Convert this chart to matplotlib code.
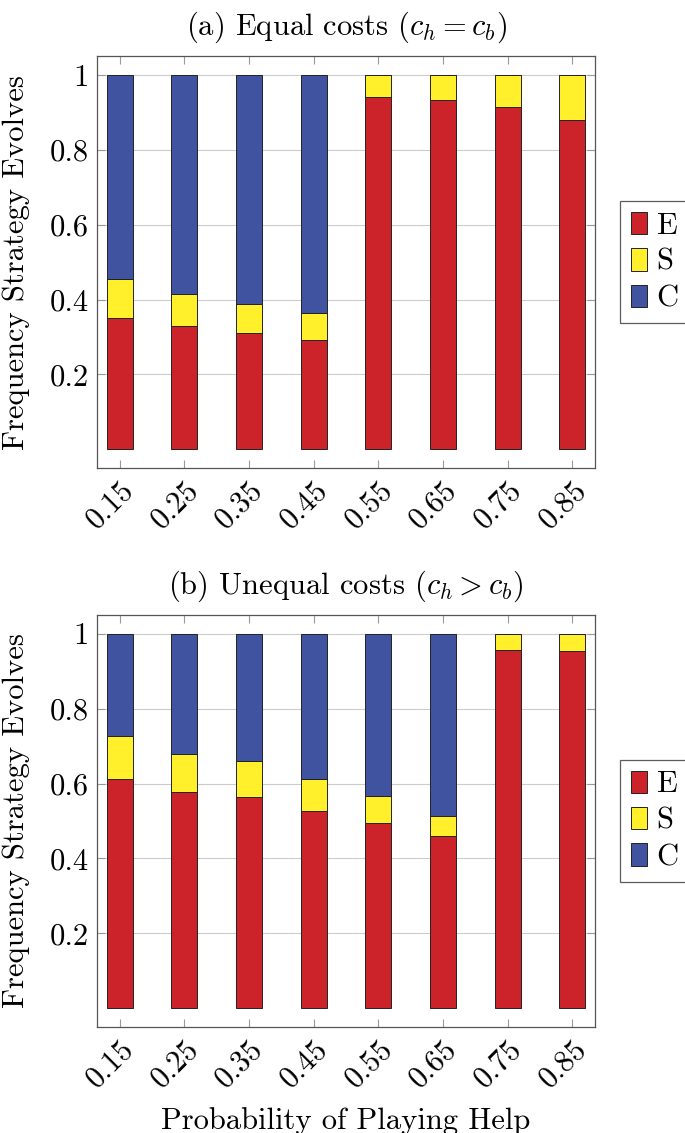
import matplotlib
matplotlib.use("Agg")
import matplotlib.pyplot as plt
from matplotlib.patches import Patch

plt.rcParams['font.family'] = 'cmr10'
plt.rcParams['mathtext.fontset'] = 'cm'
plt.rcParams['axes.formatter.use_mathtext'] = True

# Probability of playing Help
p_help = [0.15, 0.25, 0.35, 0.45, 0.55, 0.65, 0.75, 0.85]
x_labels = ['0.15', '0.25', '0.35', '0.45', '0.55', '0.65', '0.75', '0.85']
y_ticks = [0.2, 0.4, 0.6, 0.8, 1.0]
y_labels = ['0.2', '0.4', '0.6', '0.8', '1']

# (a) Equal costs
E_a = [0.351, 0.328, 0.311, 0.293, 0.941, 0.933, 0.914, 0.879]
S_a = [0.104, 0.087, 0.076, 0.070, 0.059, 0.067, 0.086, 0.121]
C_a = [0.545, 0.585, 0.613, 0.637, 0.0, 0.0, 0.0, 0.0]

# (b) Unequal costs
E_b = [0.612, 0.577, 0.564, 0.526, 0.495, 0.459, 0.957, 0.955]
S_b = [0.115, 0.103, 0.095, 0.086, 0.072, 0.054, 0.043, 0.045]
C_b = [0.273, 0.320, 0.341, 0.388, 0.433, 0.487, 0.0, 0.0]

red = '#cc2229'
yellow = '#fff02b'
blue = '#3f53a0'
FS = 22


def draw_panel(ax, E, S, C, title):
    bottom_s = E
    bottom_c = [e + s for e, s in zip(E, S)]
    kw = dict(width=0.04, edgecolor='#222222', linewidth=0.7, zorder=3)
    ax.bar(p_help, E, color=red, **kw)
    ax.bar(p_help, S, bottom=bottom_s, color=yellow, **kw)
    ax.bar(p_help, C, bottom=bottom_c, color=blue, **kw)

    ax.set_xlim(0.115, 0.885)
    ax.set_ylim(-0.05, 1.05)
    ax.set_xticks(p_help)
    ax.set_xticklabels(x_labels, rotation=45, ha='right', rotation_mode='anchor', fontsize=FS)
    ax.set_yticks(y_ticks)
    ax.set_yticklabels(y_labels, fontsize=FS)
    ax.tick_params(direction='in', length=6, color='#999999', top=True, right=True, pad=6)
    ax.grid(axis='y', color='#cccccc', linewidth=0.8, zorder=0)
    for sp in ax.spines.values():
        sp.set_color('#555555')
        sp.set_linewidth(0.9)
    ax.set_ylabel('Frequency Strategy Evolves', fontsize=FS)
    ax.yaxis.set_label_coords(-0.134, 0.5)
    ax.set_title(title, fontsize=FS, pad=15)

    handles = [Patch(facecolor=red, edgecolor='#222222', linewidth=0.7, label='E'),
               Patch(facecolor=yellow, edgecolor='#222222', linewidth=0.7, label='S'),
               Patch(facecolor=blue, edgecolor='#222222', linewidth=0.7, label='C')]
    leg = ax.legend(handles=handles, loc='center left', bbox_to_anchor=(1.05, 0.5),
                    borderaxespad=0, fontsize=FS, fancybox=False,
                    handlelength=0.55, handleheight=0.75, handletextpad=0.3,
                    labelspacing=0.28, borderpad=0.35)
    leg.get_frame().set_edgecolor('#333333')
    leg.get_frame().set_linewidth(0.9)


fig = plt.figure(figsize=(6.85, 11.33), dpi=100)
ax1 = fig.add_axes([0.1416, 0.5869, 0.727, 0.3636])
ax2 = fig.add_axes([0.1416, 0.0936, 0.727, 0.3636])

draw_panel(ax1, E_a, S_a, C_a, r'(a) Equal costs ($c_h = c_b$)')
draw_panel(ax2, E_b, S_b, C_b, r'(b) Unequal costs ($c_h > c_b$)')
ax2.set_xlabel('Probability of Playing Help', fontsize=FS, labelpad=10)

fig.savefig('out.png', dpi=100)
